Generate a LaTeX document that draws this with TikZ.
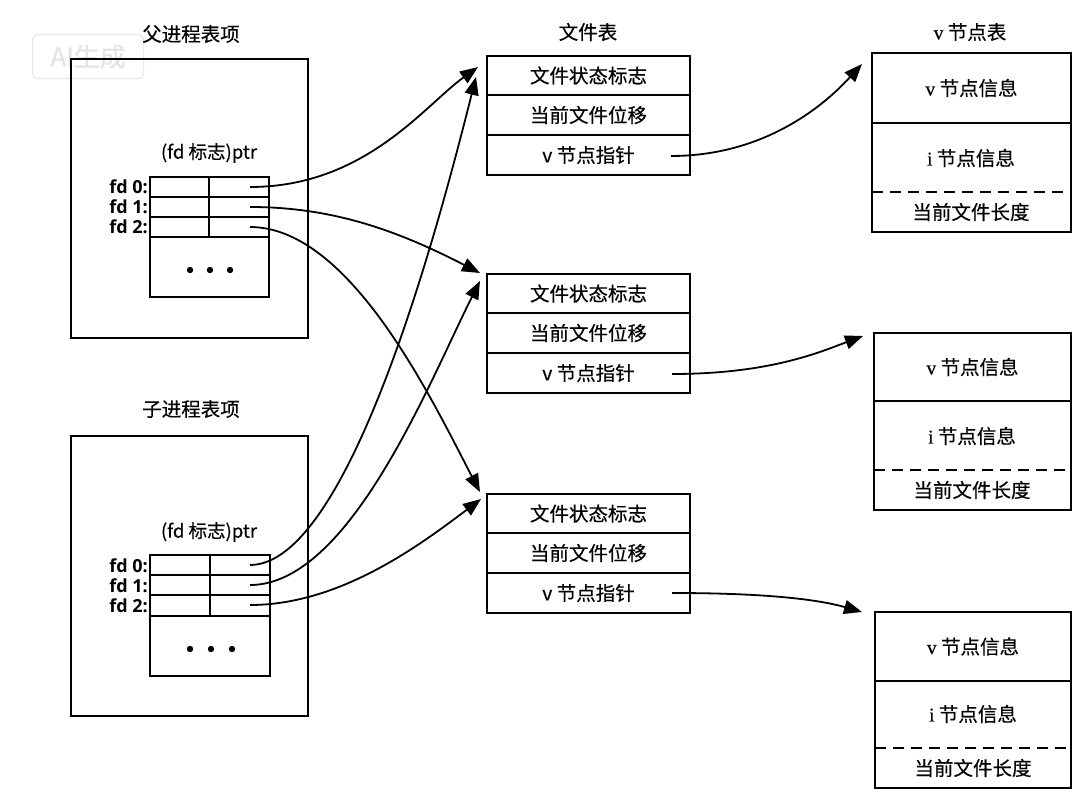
\documentclass[tikz,border=0pt]{standalone}
\usepackage{fontspec}
\setmainfont{Noto Sans CJK SC}[FakeBold=0.35]
\newfontfamily\serifv{Liberation Serif}[FakeBold=0.35]
\newfontfamily\latb{Open Sans}
\usetikzlibrary{arrows.meta}
\tikzset{
  lw/.style={line width=1.8pt},
  txt/.style={font=\fontsize{19.5}{22}\selectfont},
  ftcell/.style={draw, lw, txt, anchor=north west, inner sep=0pt, outer sep=0pt, minimum width=203pt, minimum height=40pt},
  fdcell/.style={draw, lw, anchor=north west, inner sep=0pt, outer sep=0pt, minimum height=20pt},
  box/.style={draw, lw, anchor=north west, inner sep=0pt, outer sep=0pt},
  fdlabel/.style={anchor=east, inner sep=0pt, font=\latb\bfseries\fontsize{18}{20}\selectfont},
  ttl/.style={txt, inner sep=0pt},
  conn/.style={lw, -{Triangle[length=18pt,width=14pt]}},
  dsh/.style={lw, dash pattern=on 11pt off 7pt},
}
\begin{document}
\begin{tikzpicture}[x=1pt,y=-1pt]
\useasboundingbox[fill=white] (0,0) rectangle (1090,805);

% watermark
\node[draw=gray!18, line width=1.2pt, rounded corners=6pt, text=gray!22, anchor=north west,
      minimum width=111pt, minimum height=44pt, inner sep=0pt, font=\fontsize{26}{28}\selectfont]
  (wm) at (32,34) {AI生成};

% ---------------- titles
\node[ttl] (tpar) at (191,34) {父进程表项};
\node[ttl] (tchd) at (191,409) {子进程表项};
\node[ttl] (tft) at (588,32) {文件表};
\node[ttl] (tvn) at (970,32) {{\serifv v} 节点表};

% ---------------- parent process entry
\node[box, minimum width=237pt, minimum height=279pt] (par) at (71,59) {};
\node[inner sep=0pt, font=\fontsize{18.5}{20}\selectfont] (pptr) at (209,153) {(fd 标志)ptr};
\node[fdcell, minimum width=59pt] (p0a) at (150,177) {};
\node[fdcell, minimum width=60pt] (p0b) at (209,177) {};
\node[fdcell, minimum width=59pt] (p1a) at (150,197) {};
\node[fdcell, minimum width=60pt] (p1b) at (209,197) {};
\node[fdcell, minimum width=59pt] (p2a) at (150,217) {};
\node[fdcell, minimum width=60pt] (p2b) at (209,217) {};
\node[box, minimum width=119pt, minimum height=60pt] (pdots) at (150,237) {};
\fill (190,270) circle (3.2pt) (210,270) circle (3.2pt) (230,270) circle (3.2pt);
\node[fdlabel] (pl0) at (148,187) {fd 0:};
\node[fdlabel] (pl1) at (148,207) {fd 1:};
\node[fdlabel] (pl2) at (148,227) {fd 2:};

% ---------------- child process entry
\node[box, minimum width=237pt, minimum height=280pt] (chd) at (71,436) {};
\node[inner sep=0pt, font=\fontsize{18.5}{20}\selectfont] (cptr) at (209,532) {(fd 标志)ptr};
\node[fdcell, minimum width=60pt] (c0a) at (150,555) {};
\node[fdcell, minimum width=60pt] (c0b) at (210,555) {};
\node[fdcell, minimum width=60pt] (c1a) at (150,575) {};
\node[fdcell, minimum width=60pt] (c1b) at (210,575) {};
\node[fdcell, minimum width=60pt, minimum height=21pt] (c2a) at (150,595) {};
\node[fdcell, minimum width=60pt, minimum height=21pt] (c2b) at (210,595) {};
\node[box, minimum width=120pt, minimum height=60pt] (cdots) at (150,616) {};
\fill (190,649) circle (3.2pt) (211,649) circle (3.2pt) (232,649) circle (3.2pt);
\node[fdlabel] (cl0) at (148,566) {fd 0:};
\node[fdlabel] (cl1) at (148,586) {fd 1:};
\node[fdlabel] (cl2) at (148,606) {fd 2:};

% ---------------- file table entries
\node[ftcell, minimum height=39pt] (f1a) at (487,56) {文件状态标志};
\node[ftcell] (f1b) at (487,95) {当前文件位移};
\node[ftcell] (f1c) at (487,135) {v 节点指针};

\node[ftcell, minimum height=39pt] (f2a) at (487,274) {文件状态标志};
\node[ftcell] (f2b) at (487,313) {当前文件位移};
\node[ftcell] (f2c) at (487,353) {v 节点指针};

\node[ftcell, minimum height=39pt] (f3a) at (487,494) {文件状态标志};
\node[ftcell] (f3b) at (487,533) {当前文件位移};
\node[ftcell] (f3c) at (487,573) {v 节点指针};

% ---------------- v-node tables
\node[box, minimum width=199pt, minimum height=179pt] (v1) at (872,53) {};
\node[box, txt, minimum width=199pt, minimum height=70pt] (v1a) at (872,53) {{\serifv v} 节点信息};
\node[ttl] (v1b) at (971,158) {{\serifv i} 节点信息};
\node[ttl] (v1c) at (971,212) {当前文件长度};
\draw[dsh] (872,192) -- (1071,192);

\node[box, minimum width=197pt, minimum height=177pt] (v2) at (874,333) {};
\node[box, txt, minimum width=197pt, minimum height=68pt] (v2a) at (874,333) {{\serifv v} 节点信息};
\node[ttl] (v2b) at (972,436) {{\serifv i} 节点信息};
\node[ttl] (v2c) at (972,490) {当前文件长度};
\draw[dsh] (874,470) -- (1071,470);

\node[box, minimum width=196pt, minimum height=176pt] (v3) at (875,612) {};
\node[box, txt, minimum width=196pt, minimum height=69pt] (v3a) at (875,612) {{\serifv v} 节点信息};
\node[ttl] (v3b) at (973,714) {{\serifv i} 节点信息};
\node[ttl] (v3c) at (973,768) {当前文件长度};
\draw[dsh] (875,748) -- (1071,748);

% ---------------- connector end points
\coordinate (ps0) at (250,187);
\coordinate (ps1) at (250,207);
\coordinate (ps2) at (250,227);
\coordinate (cs0) at (250,565);
\coordinate (cs1) at (250,585);
\coordinate (cs2) at (250,605);
\coordinate (t1a) at (478,67);
\coordinate (t1b) at (476,77);
\coordinate (t2a) at (480,273);
\coordinate (t2b) at (480,281);
\coordinate (t3a) at (480,492);
\coordinate (t3b) at (481,499);
\coordinate (fs1) at (671,156);
\coordinate (fs2) at (672,374);
\coordinate (fs3) at (672,593);
\coordinate (vt1) at (862,64);
\coordinate (vt2) at (863,336);
\coordinate (vt3) at (862,612);

% ---------------- connectors
\draw[conn] (ps0) .. controls (365,187) and (425,105) .. (t1a);
\draw[conn] (ps1) .. controls (335,207) and (400,232) .. (t2a);
\draw[conn] (ps2) .. controls (350,227) and (432,400) .. (t3a);
\draw[conn] (cs0) .. controls (350,565) and (440,220) .. (t1b);
\draw[conn] (cs1) .. controls (350,585) and (430,380) .. (t2b);
\draw[conn] (cs2) .. controls (340,605) and (420,545) .. (t3b);

\draw[conn] (fs1) .. controls (760,156) and (820,110) .. (vt1);
\draw[conn] (fs2) .. controls (770,374) and (820,352) .. (vt2);
\draw[conn] (fs3) .. controls (770,593) and (820,600) .. (vt3);
\end{tikzpicture}
\end{document}
